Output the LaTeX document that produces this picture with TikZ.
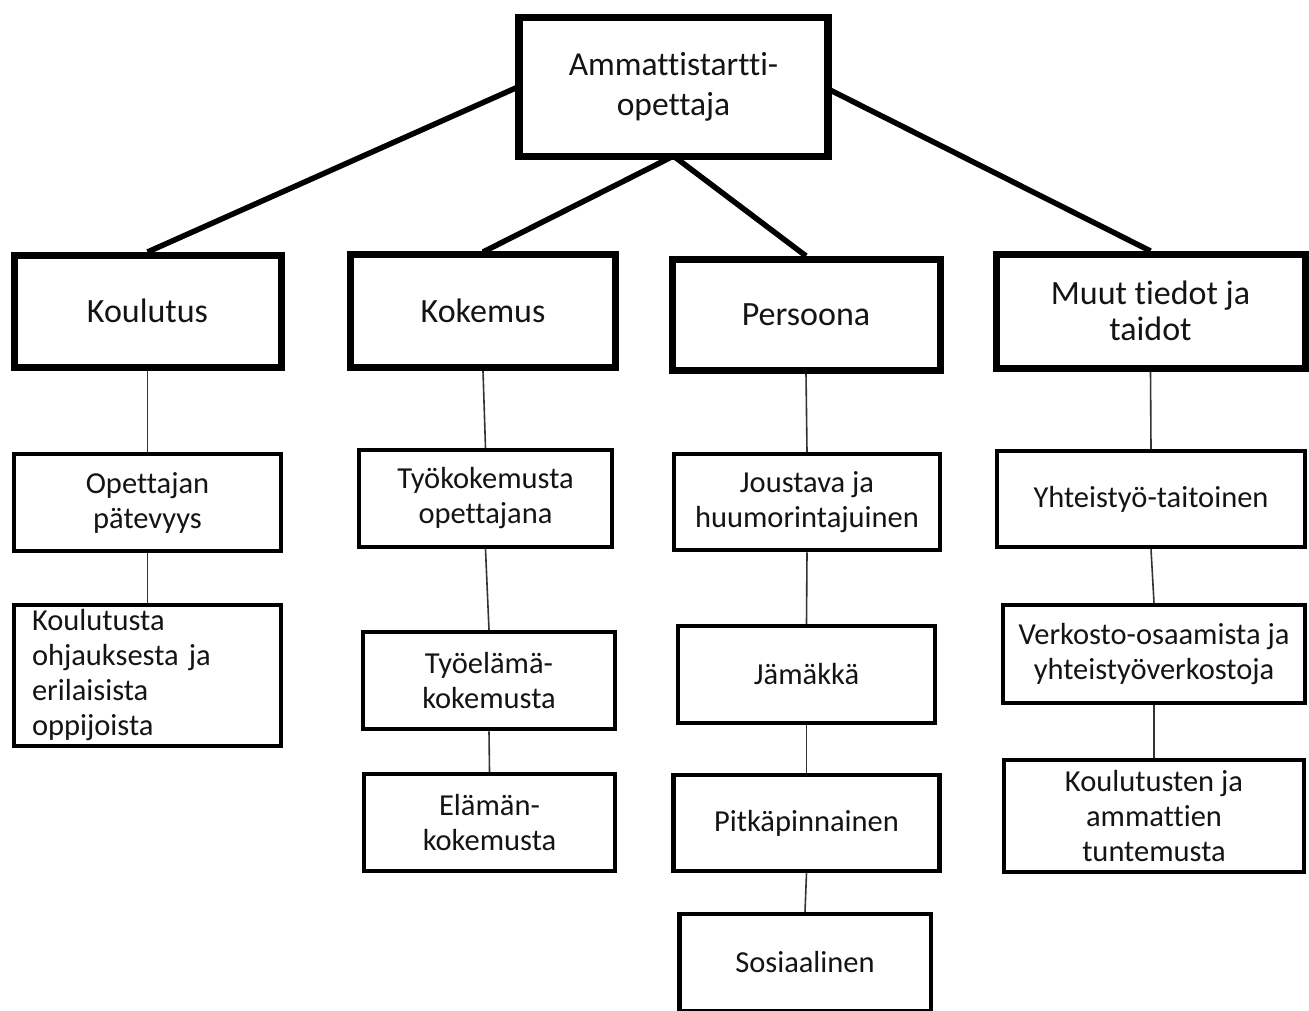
\documentclass[tikz,border=0pt]{standalone}
\usepackage{fontspec}
\setmainfont{Carlito}[Ligatures=CommonOff]
\begin{document}
\begin{tikzpicture}[x=1pt,y=-1pt,
  every node/.style={inner sep=0pt, text=black!92},
  boxsize/.style 2 args={minimum width=#1pt, minimum height=#2pt},
  topbox/.style={draw=black, fill=white, line width=7.5pt, align=center,
    font=\fontsize{33.5}{40}\selectfont},
  catbox/.style={draw=black, fill=white, line width=7pt, align=center,
    font=\fontsize{34}{36}\selectfont},
  itembox/.style={draw=black, fill=white, line width=4.5pt, align=center,
    font=\fontsize{30.5}{35}\selectfont},
  trunk/.style={line width=5.5pt, black},
  twig/.style={line width=1.6pt, black!80}
]
% canvas
\fill[white] (0,0) rectangle (1309,1010);
\useasboundingbox (0,0) rectangle (1309,1010);

% connectors from the root to the four categories
\coordinate (rootL) at (518,87);
\coordinate (rootR) at (828,89);
\coordinate (rootB) at (673.5,156);
\draw[trunk] (rootL) -- (147.5,252);
\draw[trunk] (rootB) -- (483,252);
\draw[trunk] (rootB) -- (806,256);
\draw[trunk] (rootR) -- (1150.5,251);

% root
\node[topbox, boxsize={309}{139}] (top) at (673.5,87) {Ammattistartti-\\opettaja};

% categories
\node[catbox, boxsize={267}{112}] (k1) at (147.5,311) {Koulutus};
\node[catbox, boxsize={265}{113}] (k2) at (483,311) {Kokemus};
\node[catbox, boxsize={268}{111}] (k3) at (806,314.5) {Persoona};
\node[catbox, boxsize={309}{114}] (k4) at (1150.5,311) {Muut tiedot ja\\taidot};

% Koulutus
\node[itembox, boxsize={267}{97}] (a1) at (147.5,502.5) {Opettajan\\pätevyys};
\node[itembox, boxsize={267}{141}, text width=231pt, align=left] (a2) at (147.5,675.5)
  {Koulutusta\\ohjauksesta ja\\erilaisista\\oppijoista};

% Kokemus
\node[itembox, boxsize={253}{97}] (b1) at (485.5,498.5) {Työkokemusta\\opettajana};
\node[itembox, boxsize={252}{97}] (b2) at (489,680.5) {Työelämä-\\kokemusta};
\node[itembox, boxsize={251}{97}] (b3) at (489.5,822.5) {Elämän-\\kokemusta};

% Persoona
\node[itembox, boxsize={266}{96}] (c1) at (807,502) {Joustava ja\\huumorintajuinen};
\node[itembox, boxsize={257}{97}] (c2) at (806.5,674.5) {Jämäkkä};
\node[itembox, boxsize={266}{96}] (c3) at (806.5,823) {Pitkäpinnainen};
\node[itembox, boxsize={251.5}{97}] (c4) at (805,962.5) {Sosiaalinen};

% Muut tiedot ja taidot
\node[itembox, boxsize={308}{96}] (d1) at (1151,499) {Yhteistyö-taitoinen};
\node[itembox, boxsize={302}{98}] (d2) at (1154,654) {Verkosto-osaamista ja\\yhteistyöverkostoja};
\node[itembox, boxsize={300}{112}] (d3) at (1154,816) {Koulutusten ja\\ammattien\\tuntemusta};

% thin links down each column
\draw[twig] (k1.south) -- (a1.north);
\draw[twig] (a1.south) -- (a2.north);
\draw[twig] (k2.south) -- (b1.north);
\draw[twig] (b1.south) -- (b2.north);
\draw[twig] (b2.south) -- (b3.north);
\draw[twig] (k3.south) -- (c1.north);
\draw[twig] (c1.south) -- (c2.north);
\draw[twig] (c2.south) -- (c3.north);
\draw[twig] (c3.south) -- (c4.north);
\draw[twig] (k4.south) -- (d1.north);
\draw[twig] (d1.south) -- (d2.north);
\draw[twig] (d2.south) -- (d3.north);
\end{tikzpicture}
\end{document}
